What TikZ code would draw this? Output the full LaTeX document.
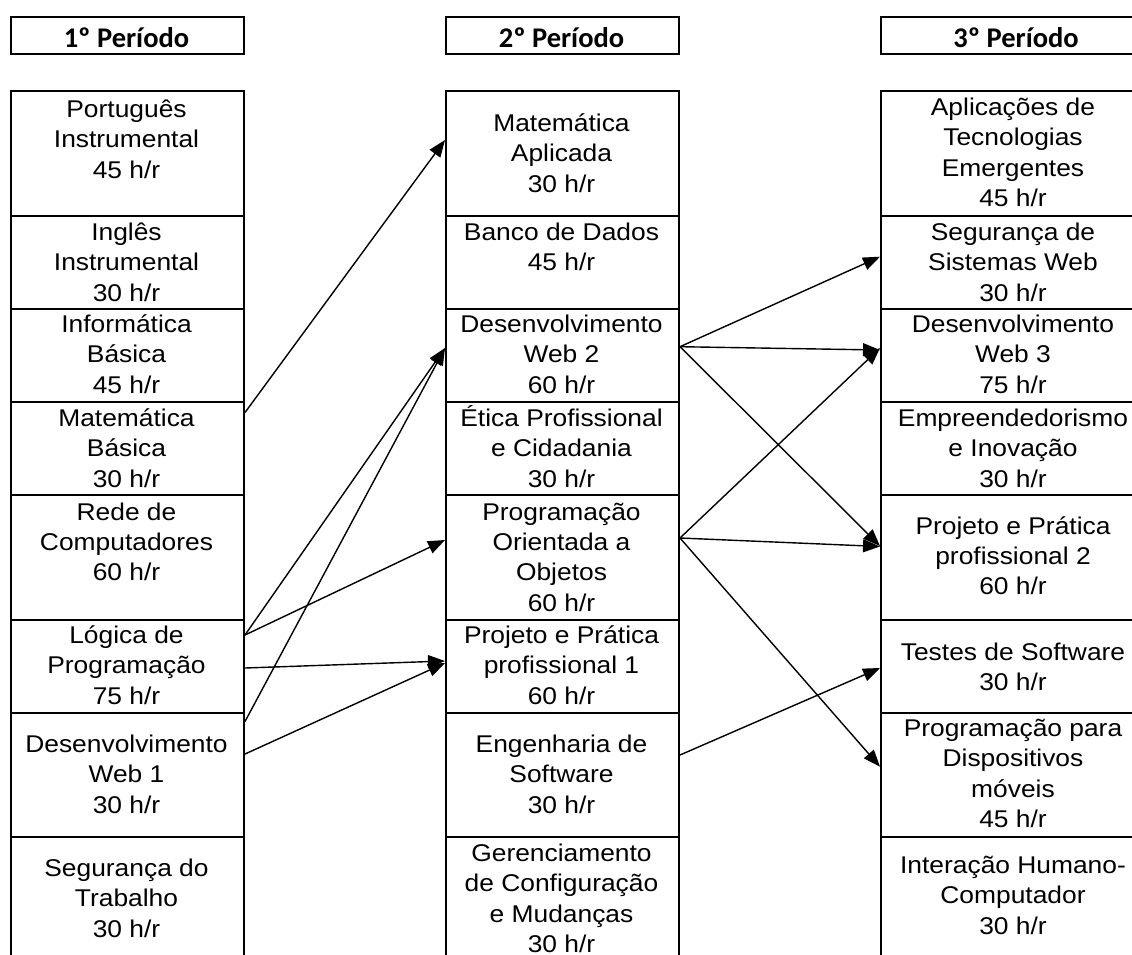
\documentclass[tikz,border=0pt]{standalone}
\usepackage{fontspec}
\setmainfont{Liberation Sans}[FakeStretch=1.09]
\newfontfamily\hdrfont{Carlito}
\usetikzlibrary{arrows.meta}
\begin{document}
\begin{tikzpicture}[x=1pt,y=-1pt,
  cellbox/.style={draw, line width=2pt, inner sep=0pt, anchor=north west},
  txt/.style={anchor=base, align=center, inner sep=0pt, font=\fontsize{24.2}{30.4}\selectfont},
  hdrtxt/.style={anchor=base, inner sep=0pt, font=\hdrfont\bfseries\fontsize{28.5}{32}\selectfont},
  arr/.style={line width=1.4pt, -{Triangle[length=17pt,width=13pt]}}]
\useasboundingbox (0,0) rectangle (1132,954);
\clip (0,0) rectangle (1132,954);

% headers
\node[cellbox, minimum width=233pt, minimum height=37pt] (h1) at (10,16) {};
\node[cellbox, minimum width=233pt, minimum height=37pt] (h2) at (445,16) {};
\node[cellbox, minimum width=270pt, minimum height=37pt] (h3) at (880,16) {};
\node[hdrtxt] (h1t) at (126.5,47) {1º Período};
\node[hdrtxt] (h2t) at (561.5,47) {2º Período};
\node[hdrtxt] (h3t) at (1016,47) {3º Período};

% column 1 cells
\node[cellbox, minimum width=233pt, minimum height=125pt] (p1a) at (10,90) {};
\node[cellbox, minimum width=233pt, minimum height=93pt] (p1b) at (10,215) {};
\node[cellbox, minimum width=233pt, minimum height=93pt] (p1c) at (10,308) {};
\node[cellbox, minimum width=233pt, minimum height=93pt] (p1d) at (10,401) {};
\node[cellbox, minimum width=233pt, minimum height=125pt] (p1e) at (10,494) {};
\node[cellbox, minimum width=233pt, minimum height=93pt] (p1f) at (10,619) {};
\node[cellbox, minimum width=233pt, minimum height=124pt] (p1g) at (10,712) {};
\node[cellbox, minimum width=233pt, minimum height=160pt] (p1h) at (10,836) {};

% column 2 cells
\node[cellbox, minimum width=233pt, minimum height=125pt] (p2a) at (445,90) {};
\node[cellbox, minimum width=233pt, minimum height=93pt] (p2b) at (445,215) {};
\node[cellbox, minimum width=233pt, minimum height=93pt] (p2c) at (445,308) {};
\node[cellbox, minimum width=233pt, minimum height=93pt] (p2d) at (445,401) {};
\node[cellbox, minimum width=233pt, minimum height=125pt] (p2e) at (445,494) {};
\node[cellbox, minimum width=233pt, minimum height=93pt] (p2f) at (445,619) {};
\node[cellbox, minimum width=233pt, minimum height=124pt] (p2g) at (445,712) {};
\node[cellbox, minimum width=233pt, minimum height=160pt] (p2h) at (445,836) {};

% column 3 cells
\node[cellbox, minimum width=270pt, minimum height=125pt] (p3a) at (880,90) {};
\node[cellbox, minimum width=270pt, minimum height=93pt] (p3b) at (880,215) {};
\node[cellbox, minimum width=270pt, minimum height=93pt] (p3c) at (880,308) {};
\node[cellbox, minimum width=270pt, minimum height=93pt] (p3d) at (880,401) {};
\node[cellbox, minimum width=270pt, minimum height=125pt] (p3e) at (880,494) {};
\node[cellbox, minimum width=270pt, minimum height=93pt] (p3f) at (880,619) {};
\node[cellbox, minimum width=270pt, minimum height=124pt] (p3g) at (880,712) {};
\node[cellbox, minimum width=270pt, minimum height=160pt] (p3h) at (880,836) {};

% column 1 texts (anchor = baseline of last line)
\node[txt] (t1a) at (126.5,178) {Português\\Instrumental\\45 h/r};
\node[txt] (t1b) at (126.5,301.3) {Inglês\\Instrumental\\30 h/r};
\node[txt] (t1c) at (126.5,393.3) {Informática\\Básica\\45 h/r};
\node[txt] (t1d) at (126.5,487.3) {Matemática\\Básica\\30 h/r};
\node[txt] (t1e) at (126.5,580.8) {Rede de\\Computadores\\60 h/r};
\node[txt] (t1f) at (126.5,704.3) {Lógica de\\Programação\\75 h/r};
\node[txt] (t1g) at (126.5,813.3) {Desenvolvimento\\Web 1\\30 h/r};
\node[txt] (t1h) at (126.5,937.3) {Segurança do\\Trabalho\\30 h/r};

% column 2 texts
\node[txt] (t2a) at (561.5,192) {Matemática\\Aplicada\\30 h/r};
\node[txt] (t2b) at (561.5,270.9) {Banco de Dados\\45 h/r};
\node[txt] (t2c) at (561.5,393.3) {Desenvolvimento\\Web 2\\60 h/r};
\node[txt] (t2d) at (561.5,487.3) {Ética Profissional\\e Cidadania\\30 h/r};
\node[txt] (t2e) at (561.5,611.2) {Programação\\Orientada a\\Objetos\\60 h/r};
\node[txt] (t2f) at (561.5,704.3) {Projeto e Prática\\profissional 1\\60 h/r};
\node[txt] (t2g) at (561.5,813.3) {Engenharia de\\Software\\30 h/r};
\node[txt] (t2h) at (561.5,952.7) {Gerenciamento\\de Configuração\\e Mudanças\\30 h/r};

% column 3 texts
\node[txt] (t3a) at (1013,206.7) {Aplicações de\\Tecnologias\\Emergentes\\45 h/r};
\node[txt] (t3b) at (1013,301.3) {Segurança de\\Sistemas Web\\30 h/r};
\node[txt] (t3c) at (1013,393.3) {Desenvolvimento\\Web 3\\75 h/r};
\node[txt] (t3d) at (1013,487.3) {Empreendedorismo\\e Inovação\\30 h/r};
\node[txt] (t3e) at (1013,594.8) {Projeto e Prática\\profissional 2\\60 h/r};
\node[txt] (t3f) at (1013,690.4) {Testes de Software\\30 h/r};
\node[txt] (t3g) at (1013,827.7) {Programação para\\Dispositivos\\móveis\\45 h/r};
\node[txt] (t3h) at (1013,934.3) {Interação Humano-\\Computador\\30 h/r};

% arrows 1st -> 2nd
\draw[arr] ([yshift=-11.5pt]p1d.north east) -- ([yshift=-50pt]p2a.north west);
\draw[arr] ([yshift=-16pt]p1f.north east) -- ([yshift=-40pt]p2c.north west);
\draw[arr] ([yshift=-16pt]p1f.north east) -- ([yshift=-46pt]p2e.north west);
\draw[arr] ([yshift=-49pt]p1f.north east) -- ([yshift=-42pt]p2f.north west);
\draw[arr] ([yshift=-9.5pt]p1g.north east) -- ([yshift=-40pt]p2c.north west);
\draw[arr] ([yshift=-42pt]p1g.north east) -- ([yshift=-44pt]p2f.north west);

% arrows 2nd -> 3rd
\draw[arr] ([yshift=-38.7pt]p2c.north east) -- ([yshift=-41.7pt]p3b.north west);
\draw[arr] ([yshift=-38.7pt]p2c.north east) -- ([yshift=-42pt]p3c.north west);
\draw[arr] ([yshift=-38.7pt]p2c.north east) -- ([yshift=-52pt]p3e.north west);
\draw[arr] ([yshift=-44pt]p2e.north east) -- ([yshift=-40pt]p3c.north west);
\draw[arr] ([yshift=-44pt]p2e.north east) -- ([yshift=-52.5pt]p3e.north west);
\draw[arr] ([yshift=-44pt]p2e.north east) -- ([yshift=-54.7pt]p3g.north west);
\draw[arr] ([yshift=-43pt]p2g.north east) -- ([yshift=-49pt]p3f.north west);
\end{tikzpicture}
\end{document}
